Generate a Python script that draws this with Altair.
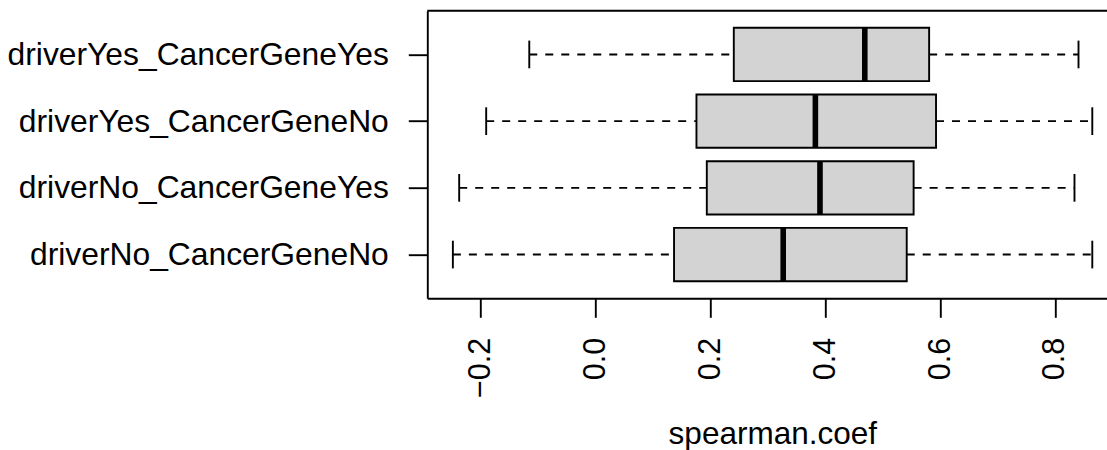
import altair as alt
import pandas as pd

categories = ["driverYes_CancerGeneYes", "driverYes_CancerGeneNo",
              "driverNo_CancerGeneYes", "driverNo_CancerGeneNo"]
whisker_low = [-0.115, -0.190, -0.237, -0.248]
q1 = [0.241, 0.176, 0.194, 0.137]
median = [0.469, 0.383, 0.391, 0.327]
q3 = [0.581, 0.593, 0.554, 0.542]
whisker_high = [0.841, 0.865, 0.834, 0.865]
x_ticks = [-0.2, 0.0, 0.2, 0.4, 0.6, 0.8]

df = pd.DataFrame({
    "group": categories,
    "lo": whisker_low,
    "q1": q1,
    "med": median,
    "q3": q3,
    "hi": whisker_high,
})

W = 679.7
H = 287.6
LW = 1.9
FONT = "Liberation Sans"

xscale = alt.Scale(domain=[-0.2925, 0.8906], nice=False, zero=False)
yscale = alt.Scale(type="point", domain=categories, padding=0.656)

xaxis = alt.Axis(values=x_ticks, format=".1f", title="spearman.coef",
                 labelAngle=270, labelAlign="right", labelBaseline="middle",
                 labelFontSize=30.5, labelFont=FONT, labelColor="black",
                 labelPadding=20, tickSize=19, tickWidth=LW, tickColor="black",
                 domainColor="black", domainWidth=LW, grid=False,
                 titleFont=FONT, titleFontSize=31.5, titleFontWeight="normal",
                 titleColor="black", titleBaseline="alphabetic",
                 titleAnchor="middle", titleX=345, titleY=145,
                 labelOverlap=False, labelFlush=False)
yaxis = alt.Axis(title=None, labelAngle=0, labelAlign="right", labelBaseline="middle",
                 labelFontSize=31.8, labelFont=FONT, labelColor="black",
                 labelPadding=20, labelLimit=1000, tickSize=19, tickWidth=LW,
                 tickColor="black", domainColor="black", domainWidth=LW, grid=False)

base = alt.Chart(df)

y_enc = alt.Y("group:N", scale=yscale, axis=yaxis, sort=categories)

whisk_lo = base.mark_rule(color="black", strokeWidth=LW, strokeDash=[8, 8]).encode(
    x=alt.X("lo:Q", scale=xscale, axis=xaxis), x2="q1:Q", y=y_enc)
whisk_hi = base.mark_rule(color="black", strokeWidth=LW, strokeDash=[8, 8]).encode(
    x=alt.X("q3:Q", scale=xscale), x2="hi:Q", y=y_enc)
staple_lo = base.mark_tick(color="black", size=27.7, thickness=LW, opacity=1,
                           orient="vertical").encode(
    x=alt.X("lo:Q", scale=xscale), y=y_enc)
staple_hi = base.mark_tick(color="black", size=27.7, thickness=LW, opacity=1,
                           orient="vertical").encode(
    x=alt.X("hi:Q", scale=xscale), y=y_enc)
box = base.mark_bar(fill="#D3D3D3", stroke="black", strokeWidth=LW, size=53.3,
                    opacity=1, orient="horizontal").encode(
    x=alt.X("q1:Q", scale=xscale), x2="q3:Q", y=y_enc)
med = base.mark_tick(color="black", size=53.3, thickness=5.6, opacity=1,
                     orient="vertical").encode(
    x=alt.X("med:Q", scale=xscale), y=y_enc)
top_border = alt.Chart(alt.Data(values=[{"k": 1}])).mark_rule(
    color="black", strokeWidth=LW).encode(
    x=alt.value(0), x2=alt.value(W), y=alt.value(0))

chart = alt.layer(whisk_lo, whisk_hi, staple_lo, staple_hi, box, med, top_border).properties(
    width=W, height=H,
    autosize=alt.AutoSizeParams(type="none"),
    padding={"left": 427.3, "top": 10.7, "right": 0, "bottom": 151.7},
    background="white",
).configure_view(stroke=None)

chart.save("out.html", embed_options={"renderer": "svg", "actions": False})
